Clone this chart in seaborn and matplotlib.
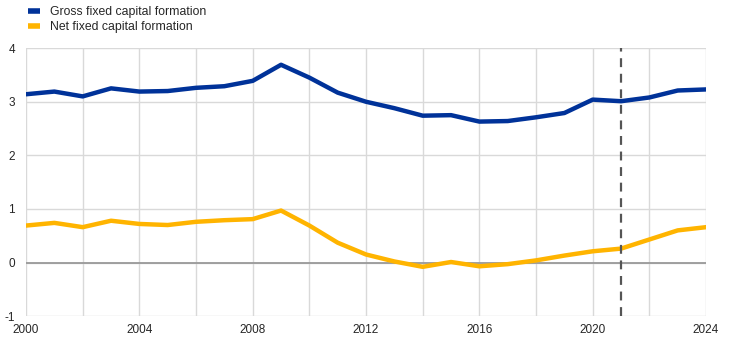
import pandas as pd
import matplotlib
matplotlib.use("Agg")
import matplotlib.pyplot as plt
import seaborn as sns

# chart data
years = list(range(2000, 2025))
gross = [3.14, 3.19, 3.10, 3.25, 3.19, 3.20, 3.26, 3.29, 3.39, 3.69,
         3.45, 3.17, 3.00, 2.88, 2.74, 2.75, 2.63, 2.64, 2.71, 2.79,
         3.04, 3.01, 3.08, 3.21, 3.23]
net = [0.69, 0.74, 0.66, 0.78, 0.72, 0.70, 0.76, 0.79, 0.81, 0.97,
       0.69, 0.37, 0.15, 0.02, -0.08, 0.01, -0.07, -0.03, 0.04, 0.13,
       0.21, 0.26, 0.43, 0.60, 0.66]
series_names = ["Gross fixed capital formation", "Net fixed capital formation"]
x_ticks = [2000, 2004, 2008, 2012, 2016, 2020, 2024]
y_ticks = [-1, 0, 1, 2, 3, 4]
marker_year = 2021

df = pd.DataFrame({
    "year": years * 2,
    "value": gross + net,
    "series": [series_names[0]] * len(years) + [series_names[1]] * len(years),
})

sns.set_style("white")
plt.rcParams['font.family'] = ['Liberation Sans', 'DejaVu Sans']
plt.rcParams['axes.unicode_minus'] = False

fig, ax = plt.subplots(figsize=(7.44, 3.44), dpi=100)
fig.subplots_adjust(left=0.035, right=0.949, top=0.86, bottom=0.081)

# grid
for yr in range(2000, 2025, 2):
    ax.axvline(yr, color="#d9d9d9", lw=1, zorder=0)
for v in y_ticks:
    ax.axhline(v, color="#d9d9d9", lw=1, zorder=0)
ax.axhline(0, color="#999999", lw=1.3, zorder=1)

sns.lineplot(data=df, x="year", y="value", hue="series",
             palette=["#003299", "#FFB400"], linewidth=3.2, ax=ax, zorder=3)

ax.axvline(marker_year, color="#555555", lw=1.6, ls=(0, (4, 3)), zorder=4)

ax.set_xlim(2000, 2024)
ax.set_ylim(-1, 4)
ax.set_xticks(x_ticks)
ax.set_yticks(y_ticks)
ax.set_xlabel("")
ax.set_ylabel("")
ax.tick_params(labelsize=8.5, length=0)
ax.tick_params(axis="x", pad=6)
ax.tick_params(axis="y", pad=8)
for s in ax.spines.values():
    s.set_visible(False)

leg = ax.legend(loc="upper left", bbox_to_anchor=(-0.005, 1.175), frameon=False,
                fontsize=8.8, handlelength=1.0, handletextpad=0.8,
                labelspacing=0.25, borderaxespad=0)
for line in leg.get_lines():
    line.set_linewidth(4)
    line.set_solid_capstyle("butt")

fig.savefig("out.png", dpi=100)
